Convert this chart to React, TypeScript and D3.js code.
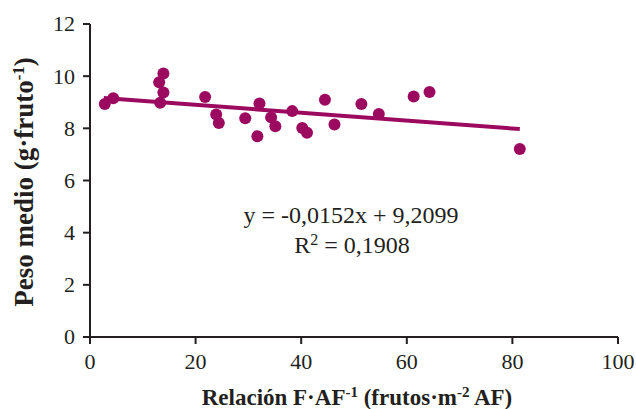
import React from 'react';
import { scaleLinear, extent } from 'd3';

const xs = [2.8, 4.4, 13.9, 13.1, 13.9, 13.3, 21.8, 23.9, 24.4, 29.4, 31.7, 32.1, 34.3, 35.1, 38.3, 40.2, 41.1, 44.5, 46.3, 51.4, 54.7, 61.3, 64.3, 81.4];
const ys = [8.93, 9.15, 10.1, 9.77, 9.37, 8.98, 9.2, 8.53, 8.2, 8.39, 7.7, 8.95, 8.42, 8.08, 8.66, 8.01, 7.83, 9.1, 8.15, 8.93, 8.55, 9.22, 9.39, 7.21];
const xTicks = [0, 20, 40, 60, 80, 100];
const yTicks = [0, 2, 4, 6, 8, 10, 12];
const slope = -0.0152;
const intercept = 9.2099;

const width = 636;
const height = 409;
const margin = { top: 24, right: 18, bottom: 72, left: 90 };
const color = '#9c0a60';
const ink = '#231f20';
const serif = '"Liberation Serif", "Times New Roman", serif';

function App() {
  const xScale = scaleLinear().domain([0, 100]).range([margin.left, width - margin.right]);
  const yScale = scaleLinear().domain([0, 12]).range([height - margin.bottom, margin.top]);
  const [x0, x1] = extent(xs) as [number, number];
  const y0 = yScale(0);

  return (
    <svg width={width} height={height} style={{ position: 'absolute', left: 0, top: 0 }}>
      <rect width={width} height={height} fill="#fff" />
      <line x1={xScale(x0) - 1} y1={yScale(slope * x0 + intercept)} x2={xScale(x1)} y2={yScale(slope * x1 + intercept)} stroke={color} strokeWidth={4} />
      {xs.map((x, i) => (
        <circle key={i} cx={xScale(x)} cy={yScale(ys[i])} r={6} fill={color} />
      ))}
      <line x1={xScale(0) - 7} y1={y0} x2={xScale(100)} y2={y0} stroke={ink} strokeWidth={2} />
      <line x1={xScale(0)} y1={yScale(12)} x2={xScale(0)} y2={y0} stroke={ink} strokeWidth={2} />
      {yTicks.map((t) => (
        <g key={t}>
          <line x1={xScale(0) - 7} x2={xScale(0)} y1={yScale(t)} y2={yScale(t)} stroke={ink} strokeWidth={2} />
          <text x={xScale(0) - 15} y={yScale(t)} dy="0.34em" textAnchor="end" fontFamily={serif} fontSize={22} fill={ink}>{t}</text>
        </g>
      ))}
      {xTicks.map((t) => (
        <g key={t}>
          <line x1={xScale(t)} x2={xScale(t)} y1={y0} y2={y0 + 7} stroke={ink} strokeWidth={2} />
          <text x={xScale(t)} y={y0 + 32} textAnchor="middle" fontFamily={serif} fontSize={22} fill={ink}>{t}</text>
        </g>
      ))}
      <text x={351} y={223} textAnchor="middle" fontFamily={serif} fontSize={24} fill={ink}>y = -0,0152x + 9,2099</text>
      <text x={352} y={253} textAnchor="middle" fontFamily={serif} fontSize={24} fill={ink}>
        R<tspan fontSize={16} dy={-8}>2</tspan><tspan dy={8}> = 0,1908</tspan>
      </text>
      <text x={357} y={405} textAnchor="middle" fontFamily={serif} fontSize={23} fontWeight="bold" fill={ink}>
        Relación F·AF<tspan fontSize={15} dy={-8}>-1</tspan><tspan dy={8}> (frutos·m</tspan><tspan fontSize={15} dy={-8}>-2</tspan><tspan dy={8}> AF)</tspan>
      </text>
      <text transform="translate(33,182) rotate(-90)" textAnchor="middle" fontFamily={serif} fontSize={27} fontWeight="bold" fill={ink}>
        Peso medio (g·fruto<tspan fontSize={17} dy={-9}>-1</tspan><tspan dy={9}>)</tspan>
      </text>
    </svg>
  );
}

export default App;
